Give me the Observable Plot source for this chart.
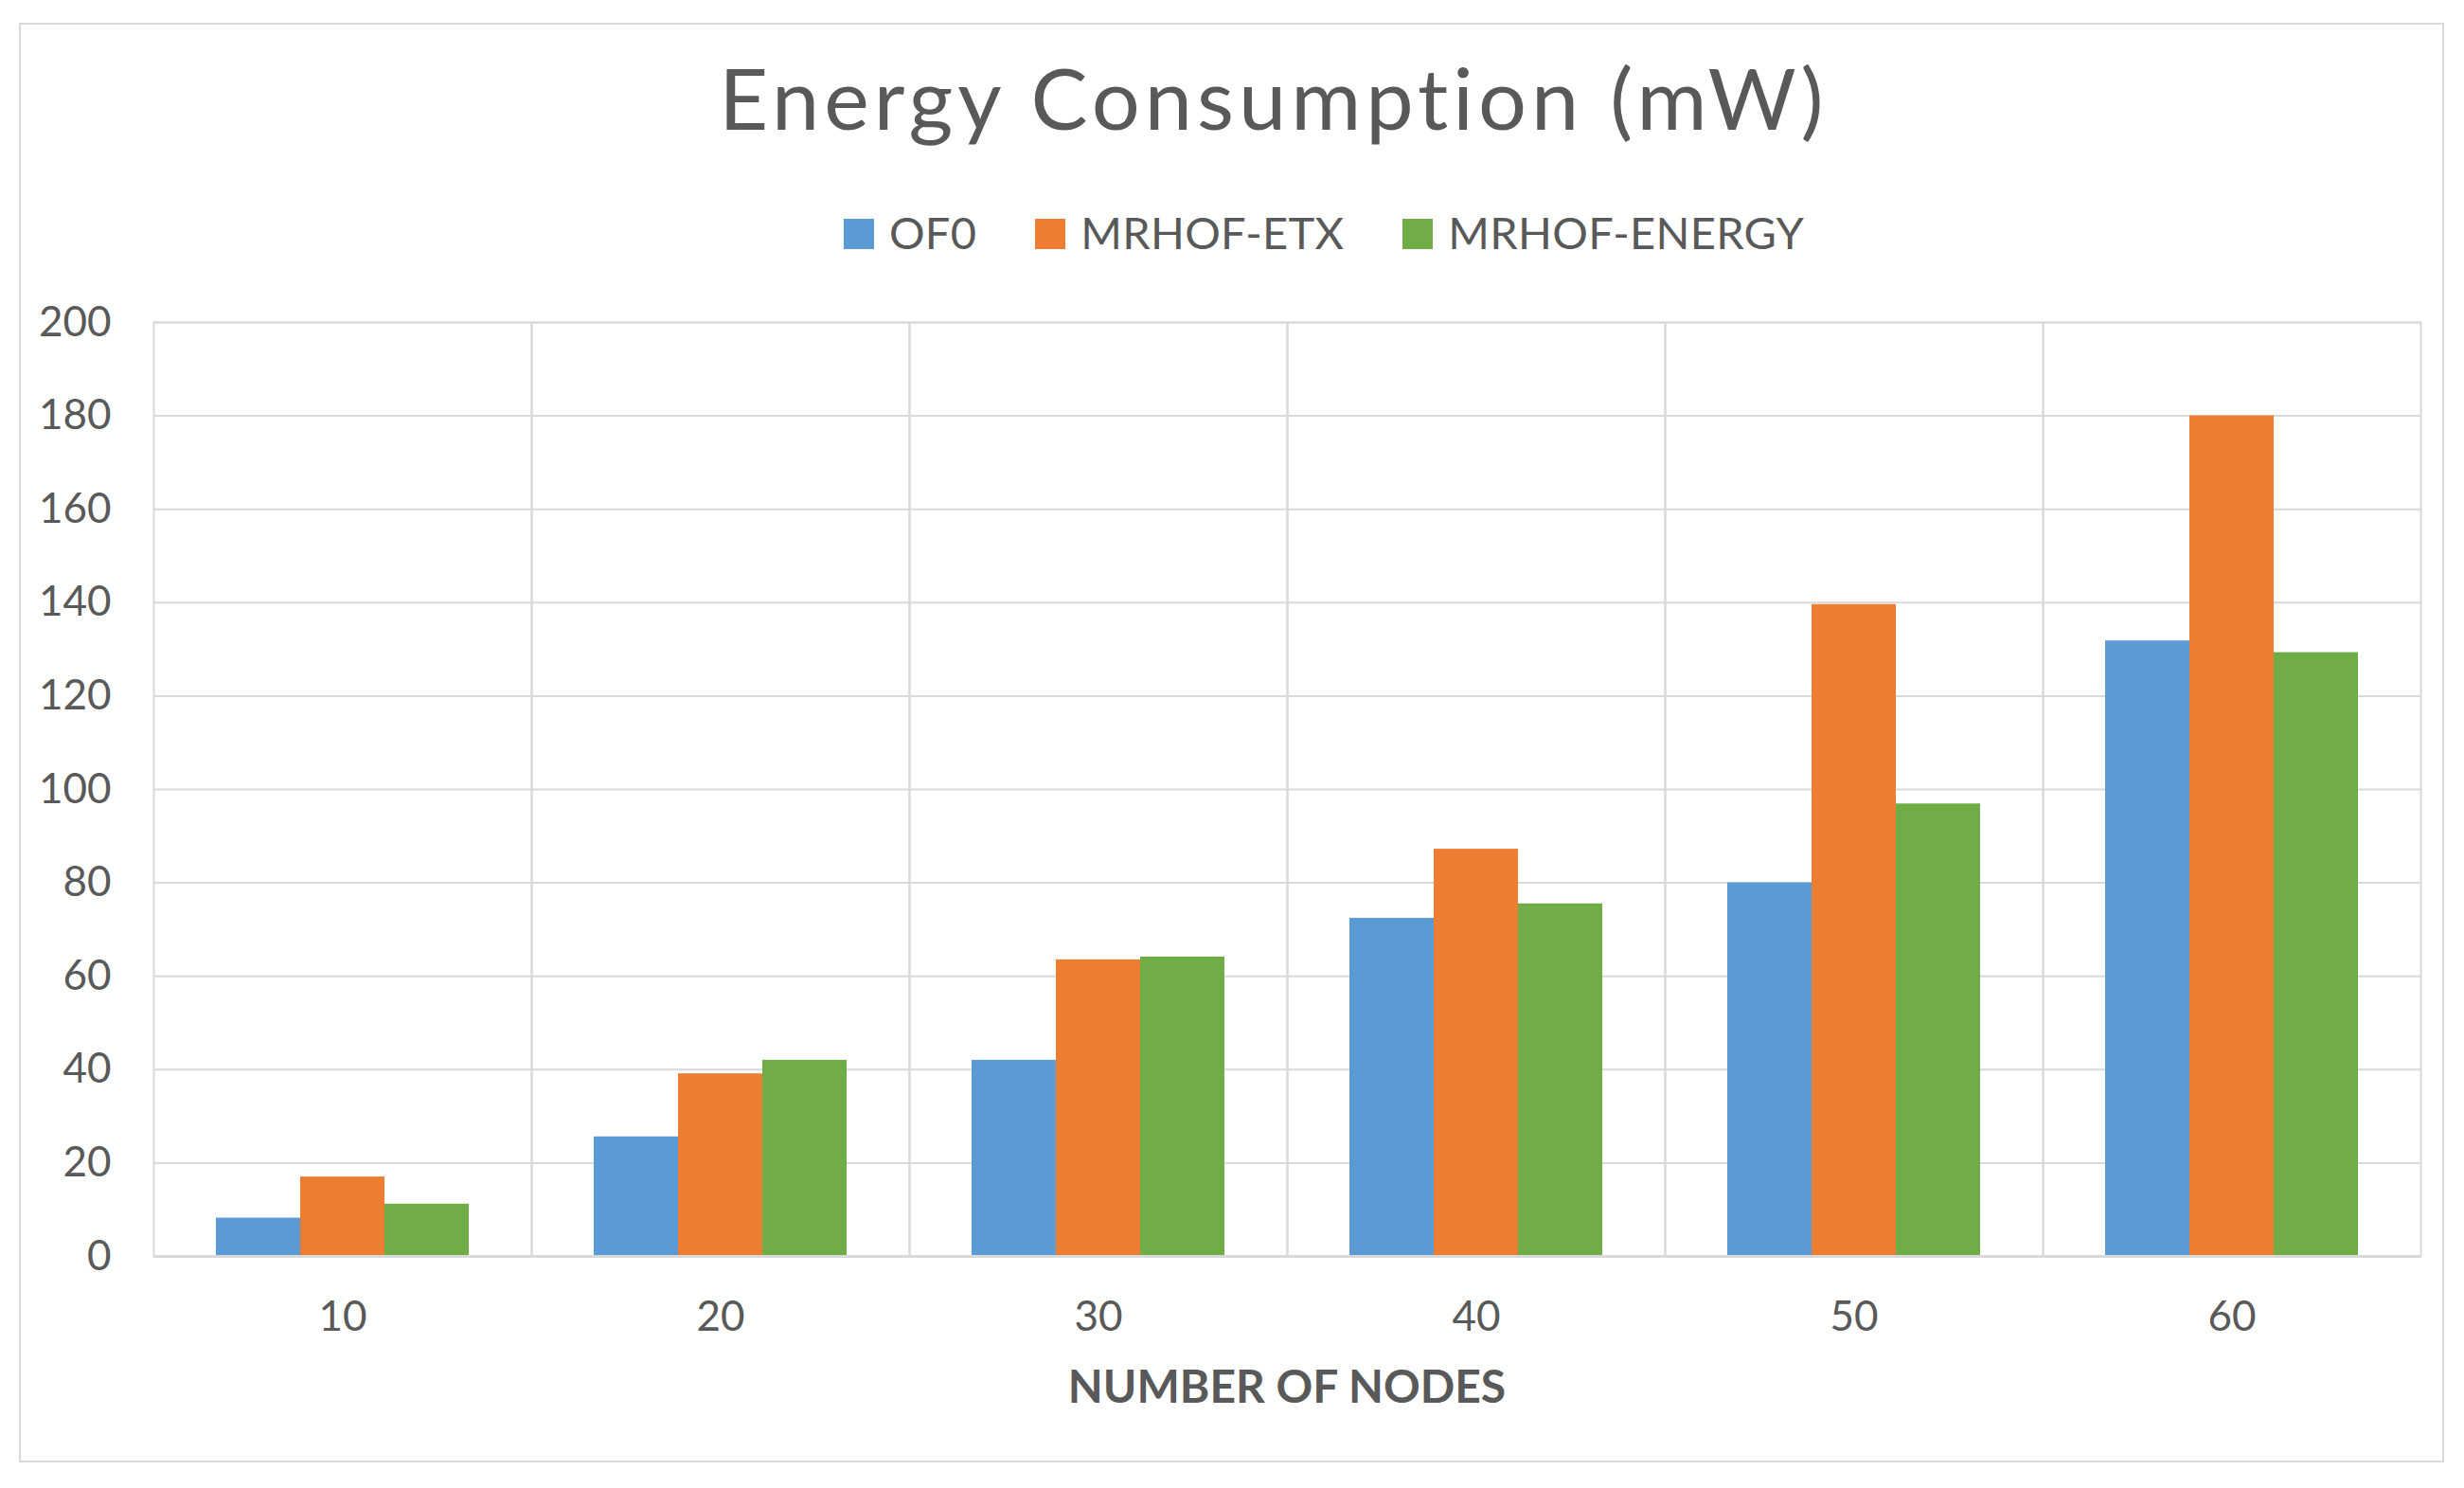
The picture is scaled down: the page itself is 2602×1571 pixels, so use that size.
<!DOCTYPE html>
<html>
<head>
<meta charset="utf-8">
<script src="https://cdn.jsdelivr.net/npm/d3@7"></script>
<script src="https://cdn.jsdelivr.net/npm/@observablehq/plot@0.6"></script>
<style>
  html, body { margin: 0; padding: 0; background: #fff; }
  body { width: 2602px; height: 1571px; position: relative; overflow: hidden; font-family: Lato, "DejaVu Sans", sans-serif; color: #595959; }
  #border { position: absolute; left: 20px; top: 24px; width: 2561px; height: 1520px; border: 2px solid #d9d9d9; box-sizing: border-box; }
  #title { position: absolute; left: 0; width: 2690px; top: 57px; text-align: center; font-size: 90px; line-height: 1; letter-spacing: 5px; font-weight: 400; }
  #legend { position: absolute; left: 0; width: 2796px; top: 222px; display: flex; justify-content: center; font-size: 47px; line-height: 1; letter-spacing: 0.3px; }
  .item { display: flex; align-items: flex-start; margin: 0 31px; }
  .sw { width: 32px; height: 32px; margin-top: 9px; margin-right: 16px; }
  #xlabel { position: absolute; left: 160px; width: 2398px; top: 1439px; text-align: center; font-size: 48px; font-weight: 700; line-height: 1; }
  #chart { position: absolute; left: 0; top: 300px; }
</style>
</head>
<body>
<div id="border"></div>
<div id="title"></div>
<div id="legend"></div>
<div id="chart"></div>
<div id="xlabel"></div>
<script>
const titleText = "Energy Consumption (mW)";
const xTitle = "NUMBER OF NODES";
const nodes = [10, 20, 30, 40, 50, 60];
const series = ["OF0", "MRHOF-ETX", "MRHOF-ENERGY"];
const of0 = [8.2, 25.6, 42.0, 72.4, 80.0, 131.8];
const mrhofEtx = [17.0, 39.1, 63.5, 87.2, 139.6, 180.0];
const mrhofEnergy = [11.2, 42.0, 64.1, 75.5, 96.9, 129.3];
const yTicks = [0, 20, 40, 60, 80, 100, 120, 140, 160, 180, 200];
const colors = ["#5B9BD5", "#ED7D31", "#70AD47"];

const valuesBySeries = [of0, mrhofEtx, mrhofEnergy];
const data = [];
nodes.forEach((n, i) => {
  series.forEach((s, j) => data.push({nodes: n, series: s, value: valuesBySeries[j][i]}));
});

document.getElementById("title").textContent = titleText;
document.getElementById("xlabel").textContent = xTitle;
const legend = document.getElementById("legend");
series.forEach((s, j) => {
  const it = document.createElement("div");
  it.className = "item";
  const sw = document.createElement("div");
  sw.className = "sw";
  sw.style.background = colors[j];
  const t = document.createElement("span");
  t.textContent = s;
  it.appendChild(sw); it.appendChild(t);
  legend.appendChild(it);
});

const grid = "#d9d9d9";
const chart = Plot.plot({
  width: 2602,
  height: 1200,
  marginLeft: 160,
  marginRight: 44,
  marginTop: 40,
  marginBottom: 174,
  style: {fontFamily: "Lato, sans-serif", fontSize: "44px", color: "#595959", background: "transparent", overflow: "visible"},
  fx: {domain: nodes, padding: 0, label: null},
  x: {domain: series, paddingInner: 0, paddingOuter: 0.74, axis: null},
  y: {domain: [0, 200], label: null},
  color: {domain: series, range: colors},
  marks: [
    Plot.gridY(yTicks, {stroke: grid, strokeOpacity: 1, strokeWidth: 2}),
    Plot.frame({stroke: grid, strokeOpacity: 1, strokeWidth: 2}),
    Plot.barY(data, {fx: "nodes", x: "series", y: "value", fill: "series", inset: 0}),
    Plot.ruleY([0], {stroke: grid, strokeWidth: 3}),
    Plot.axisY(yTicks, {tickSize: 0, tickPadding: 45, label: null, fill: "#595959"}),
    Plot.axisFx({anchor: "bottom", tickSize: 0, tickPadding: 47, label: null, fill: "#595959"})
  ]
});
document.getElementById("chart").appendChild(chart);
</script>
</body>
</html>
